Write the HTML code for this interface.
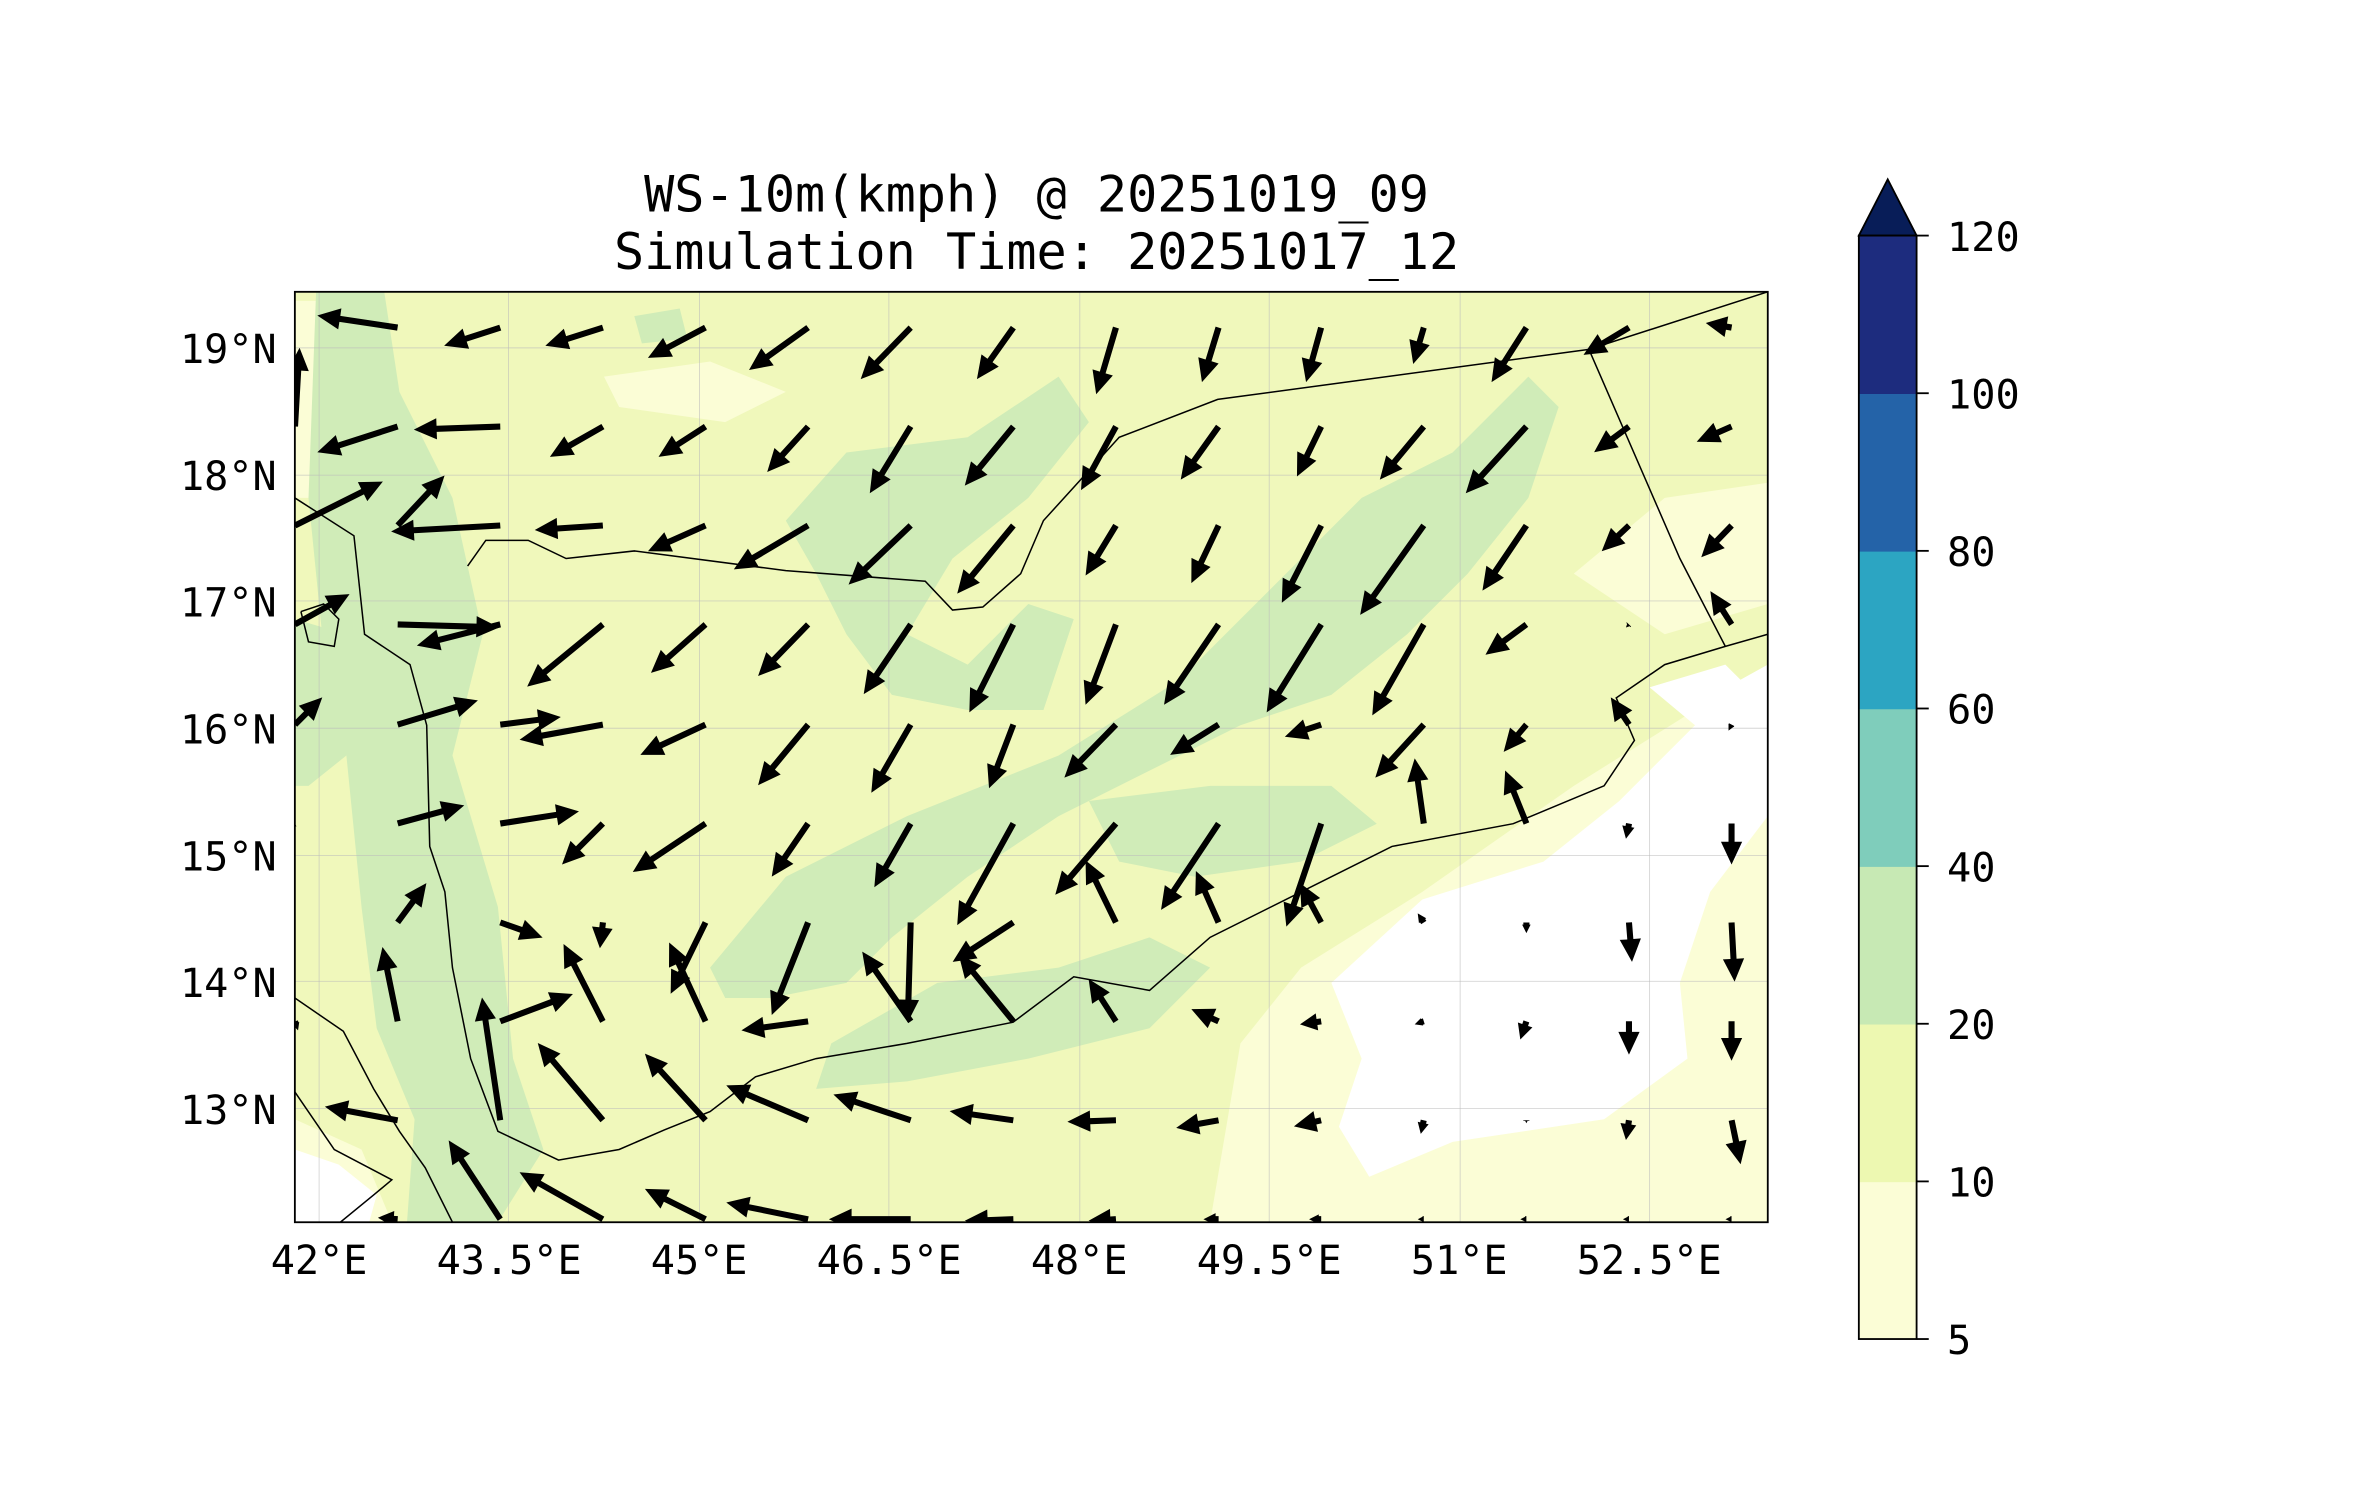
<!DOCTYPE html>
<html><head><meta charset="utf-8"><style>
html,body{margin:0;padding:0;background:#fff;}
svg{display:block;font-family:"DejaVu Sans Mono","Liberation Mono",monospace;}
</style></head><body>
<svg id="chart" width="2371" height="1500" viewBox="0 0 2371 1500" xmlns="http://www.w3.org/2000/svg">
<g transform="scale(1.5199)">
<g font-size="33" text-anchor="middle" fill="#000">
<text x="682" y="139">WS-10m(kmph) @ 20251019_09</text>
<text x="682" y="177">Simulation Time: 20251017_12</text>
</g>
<defs><clipPath id="mapclip"><rect x="196" y="194" width="972" height="614"/></clipPath></defs>
<g transform="translate(194,192) scale(0.997) translate(-196,-194)">
<g clip-path="url(#mapclip)">
<rect x="196" y="194" width="972" height="614" fill="#f0f8bb"/>
<g fill="#fbfdd6">
<path d="M800,808 L820,690 L860,640 L940,590 L1040,520 L1120,470 L1168,440 L1168,808 Z"/>
<path d="M196,200 L230,200 L240,260 L225,330 L196,330 Z"/>
<path d="M400,250 L470,240 L520,260 L480,280 L410,270 Z"/>
<path d="M1040,380 L1100,330 L1168,320 L1168,400 L1100,420 Z"/>
<path d="M196,740 L240,760 L260,808 L196,808 Z"/>
</g>
<g fill="#ffffff">
<path d="M880,650 L940,595 L1020,570 L1070,530 L1110,490 L1150,450 L1168,440 L1168,540 L1130,590 L1110,650 L1115,700 L1060,740 L960,755 L905,778 L885,745 L900,700 Z"/>
<path d="M1090,455 L1140,440 L1160,460 L1120,480 Z"/>
<path d="M196,760 L225,770 L250,790 L245,808 L196,808 Z"/>
</g>
<g fill="#d0ecb8">
<path d="M210,194 L255,194 L265,260 L300,330 L320,420 L300,500 L330,600 L340,700 L360,760 L330,808 L270,808 L275,740 L250,680 L240,600 L230,500 L215,430 L205,330 Z"/>
<path d="M470,640 L520,580 L600,540 L700,500 L780,450 L830,400 L900,330 L960,300 L1010,250 L1030,270 L1010,330 L970,380 L930,420 L880,460 L820,480 L760,510 L700,540 L640,580 L590,620 L560,650 L510,660 L480,660 Z"/>
<path d="M520,345 L560,300 L640,290 L700,250 L720,280 L680,330 L630,370 L600,420 L640,440 L680,400 L710,410 L690,470 L640,470 L590,460 L560,420 L540,380 Z"/>
<path d="M550,690 L620,650 L700,640 L760,620 L800,640 L760,680 L680,700 L600,715 L540,720 Z"/>
<path d="M720,530 L800,520 L880,520 L910,545 L860,570 L790,580 L740,570 Z"/>
<path d="M196,410 L230,420 L230,500 L205,520 L196,520 Z"/>
<path d="M420,210 L450,205 L455,225 L425,228 Z"/>
</g>
<g stroke="#bbbbbb" stroke-width="0.6" stroke-opacity="0.6">
<line x1="212" y1="194" x2="212" y2="808"/><line x1="337" y1="194" x2="337" y2="808"/><line x1="463" y1="194" x2="463" y2="808"/><line x1="588" y1="194" x2="588" y2="808"/><line x1="714" y1="194" x2="714" y2="808"/><line x1="839" y1="194" x2="839" y2="808"/><line x1="965" y1="194" x2="965" y2="808"/><line x1="1090" y1="194" x2="1090" y2="808"/>
<line x1="196" y1="231" x2="1168" y2="231"/><line x1="196" y1="315" x2="1168" y2="315"/><line x1="196" y1="398" x2="1168" y2="398"/><line x1="196" y1="482" x2="1168" y2="482"/><line x1="196" y1="566" x2="1168" y2="566"/><line x1="196" y1="649" x2="1168" y2="649"/><line x1="196" y1="733" x2="1168" y2="733"/>
</g>
<g fill="none" stroke="#000" stroke-width="1">
<polyline points="196,330 235,355 242,420 272,440 283,480 285,560 295,590 300,640 312,700 330,748 370,767 410,760 440,747 470,735 500,712 540,700 600,690 670,676 710,646 760,655 800,620 860,590 920,560 1000,545 1060,520 1080,490 1068,462 1100,440 1140,428 1168,420"/>
<polyline points="310,375 322,358 350,358 375,370 420,365 520,378 612,385 630,404 650,402 675,380 690,345 740,290 805,265 1050,232 1168,194"/>
<polyline points="1050,232 1110,370 1140,428"/>
<polyline points="196,660 228,682 248,720 265,748 282,772 300,808"/>
<polyline points="196,722 222,760 260,780 248,790 226,808"/>
<polyline points="200,405 215,400 225,410 222,428 205,425 200,405"/>
</g>
<g id="arrows"></g>
</g>
<rect x="196" y="194" width="972" height="614" fill="none" stroke="#000" stroke-width="1.2"/>
<g id="xticks" font-size="26.5" text-anchor="middle"></g>
<g id="yticks" font-size="26.5" text-anchor="end"></g>
</g>
<g id="colorbar"></g>
</g>
</svg>
<script>
// grid of vector tails
const lons = [41.81,42.62,43.43,44.24,45.05,45.86,46.67,47.48,48.29,49.10,49.91,50.72,51.53,52.34,53.15];
const lats = [19.16,18.38,17.60,16.82,16.03,15.25,14.47,13.69,12.91,12.13];
// u (east) components per row
const uRow0=[0,-53,-37,-38,-38,-39,-33,-24,-13,-11,-10,-7,-23,-30,-17];
const uRow1=[3,-53,-57,-35,-31,-27,-27,-32,-23,-25,-16,-29,-40,-23,-23];
const uRow2=[58,31,-72,-45,-38,-49,-41,-37,-20,-18,-26,-42,-29,-18,-20];
const uRow3=[36,67,-55,-50,-36,-33,-31,-29,-20,-36,-36,-34,-27,-2,-14];
const uRow4=[18,53,40,-55,-43,-33,-26,-16,-34,-32,-24,-32,-15,-12,-2];
const uRow5=[-2,44,52,-27,-48,-24,-24,-37,-40,-38,-23,-6,-14,-2,0];
const uRow6=[0,19,28,-2,-23,-24,-2,-40,-20,-15,-14,-4,0,2,2];
const uRow7=[2,-10,48,-26,-24,-44,-32,-36,-18,-18,-14,-6,-4,0,0];
const uRow8=[0,-48,-12,-43,-40,-54,-51,-42,-32,-28,-18,-2,0,-2,6];
const uRow9=[0,-13,-34,-55,-40,-54,-54,-32,-18,-10,-8,-4,-4,-4,-4];
// v (north) components per row
const vRow0=[0,8,-12,-12,-20,-28,-34,-34,-44,-36,-36,-24,-36,-18,3];
const vRow1=[52,-17,-2,-20,-20,-30,-44,-39,-42,-35,-33,-35,-44,-17,-10];
const vRow2=[29,33,-4,-3,-17,-29,-39,-45,-33,-38,-51,-59,-43,-17,-21];
const vRow3=[20,-2,-14,-41,-32,-34,-46,-58,-53,-53,-58,-60,-20,-2,22];
const vRow4=[18,16,5,-10,-20,-40,-45,-42,-35,-20,-8,-35,-18,18,-4];
const vRow5=[-1,12,8,-27,-32,-35,-42,-67,-47,-57,-68,43,35,-10,-27];
const vRow6=[0,26,-10,-17,-47,-61,-66,-26,41,34,26,6,-7,-26,-39];
const vRow7=[-6,49,18,51,52,-6,46,44,28,8,-2,-2,-12,-22,-26];
const vRow8=[0,9,81,51,44,23,17,6,-1,-5,-4,-9,-2,-13,-29];
const vRow9=[0,1,52,31,20,11,0,-1,-1,0,0,0,0,0,0];
const uData=[uRow0,uRow1,uRow2,uRow3,uRow4,uRow5,uRow6,uRow7,uRow8,uRow9];
const vData=[vRow0,vRow1,vRow2,vRow3,vRow4,vRow5,vRow6,vRow7,vRow8,vRow9];
const xTickVals=[42,43.5,45,46.5,48,49.5,51,52.5];
const xTickLabels=["42°E","43.5°E","45°E","46.5°E","48°E","49.5°E","51°E","52.5°E"];
const yTickVals=[19,18,17,16,15,14,13];
const yTickLabels=["19°N","18°N","17°N","16°N","15°N","14°N","13°N"];
const cbLevels=[5,10,20,40,60,80,100,120];
const cbColors=["#fbfdd6","#edf8b1","#c7e9b4","#7fcdbb","#2ca5c2","#2463a8","#1d2c7e"];

const NS="http://www.w3.org/2000/svg";
function xOf(lon){return 212+(lon-42)*83.6;}
function yOf(lat){return 231+(19-lat)*83.7;}
const vecScale=1.0;

const ag=document.getElementById('arrows');
for(let r=0;r<lats.length;r++){
  for(let c=0;c<lons.length;c++){
    const u=uData[r][c], v=vData[r][c];
    const L=Math.hypot(u,v)*vecScale;
    if(L<0.5) continue;
    const x0=xOf(lons[c]), y0=yOf(lats[r]);
    const ux=u*vecScale/L, uy=-v*vecScale/L;
    const px=-uy, py=ux;
    const hl=Math.min(15,L*0.8), hw=Math.min(7,L*0.4), sw=2;
    const bx=x0+ux*(L-hl), by=y0+uy*(L-hl);
    const tx=x0+ux*L, ty=y0+uy*L;
    const pts=[[x0+px*sw,y0+py*sw],[bx+px*sw,by+py*sw],[bx+px*hw,by+py*hw],[tx,ty],[bx-px*hw,by-py*hw],[bx-px*sw,by-py*sw],[x0-px*sw,y0-py*sw]];
    const p=document.createElementNS(NS,'polygon');
    p.setAttribute('points',pts.map(q=>q[0].toFixed(1)+','+q[1].toFixed(1)).join(' '));
    p.setAttribute('fill','#000');
    
    
    ag.appendChild(p);
  }
}
const xg=document.getElementById('xticks');
xTickVals.forEach((v,i)=>{
  const t=document.createElementNS(NS,'text');
  t.setAttribute('x',xOf(v));t.setAttribute('y',842);
  t.textContent=xTickLabels[i];
  
  
  xg.appendChild(t);
});
const yg=document.getElementById('yticks');
yTickVals.forEach((v,i)=>{
  const t=document.createElementNS(NS,'text');
  t.setAttribute('x',184);t.setAttribute('y',yOf(v)+10);
  t.textContent=yTickLabels[i];
  
  
  yg.appendChild(t);
});
// colorbar (evenly spaced levels)
const cb=document.getElementById('colorbar');
const cbX=1223,cbW=38,cbTop=155,cbBot=881;
const step=(cbBot-cbTop)/(cbLevels.length-1);
function cbY(i){return cbBot-i*step;}
cbColors.forEach((col,i)=>{
  const r=document.createElementNS(NS,'rect');
  r.setAttribute('x',cbX);r.setAttribute('y',cbY(i+1));r.setAttribute('width',cbW);r.setAttribute('height',step+0.5);
  r.setAttribute('fill',col);
  
  
  cb.appendChild(r);
});
const tri=document.createElementNS(NS,'polygon');
tri.setAttribute('points',`${cbX},${cbTop} ${cbX+cbW/2},${cbTop-37} ${cbX+cbW},${cbTop}`);
tri.setAttribute('fill','#081d58');tri.setAttribute('stroke','#000');tri.setAttribute('stroke-width','1.2');


cb.appendChild(tri);
const fr=document.createElementNS(NS,'rect');
fr.setAttribute('x',cbX);fr.setAttribute('y',cbTop);fr.setAttribute('width',cbW);fr.setAttribute('height',cbBot-cbTop);
fr.setAttribute('fill','none');fr.setAttribute('stroke','#000');fr.setAttribute('stroke-width','1.2');


cb.appendChild(fr);
cbLevels.forEach((lv,i)=>{
  const y=cbY(i);
  const l=document.createElementNS(NS,'line');
  l.setAttribute('x1',cbX+cbW);l.setAttribute('x2',cbX+cbW+8);l.setAttribute('y1',y);l.setAttribute('y2',y);
  l.setAttribute('stroke','#000');l.setAttribute('stroke-width','1.2');
  
  
  cb.appendChild(l);
  const t=document.createElementNS(NS,'text');
  t.setAttribute('x',cbX+cbW+20);t.setAttribute('y',y+10);t.setAttribute('font-size','26.5');
  t.textContent=lv;
  
  
  cb.appendChild(t);
});
</script>
</body></html>
